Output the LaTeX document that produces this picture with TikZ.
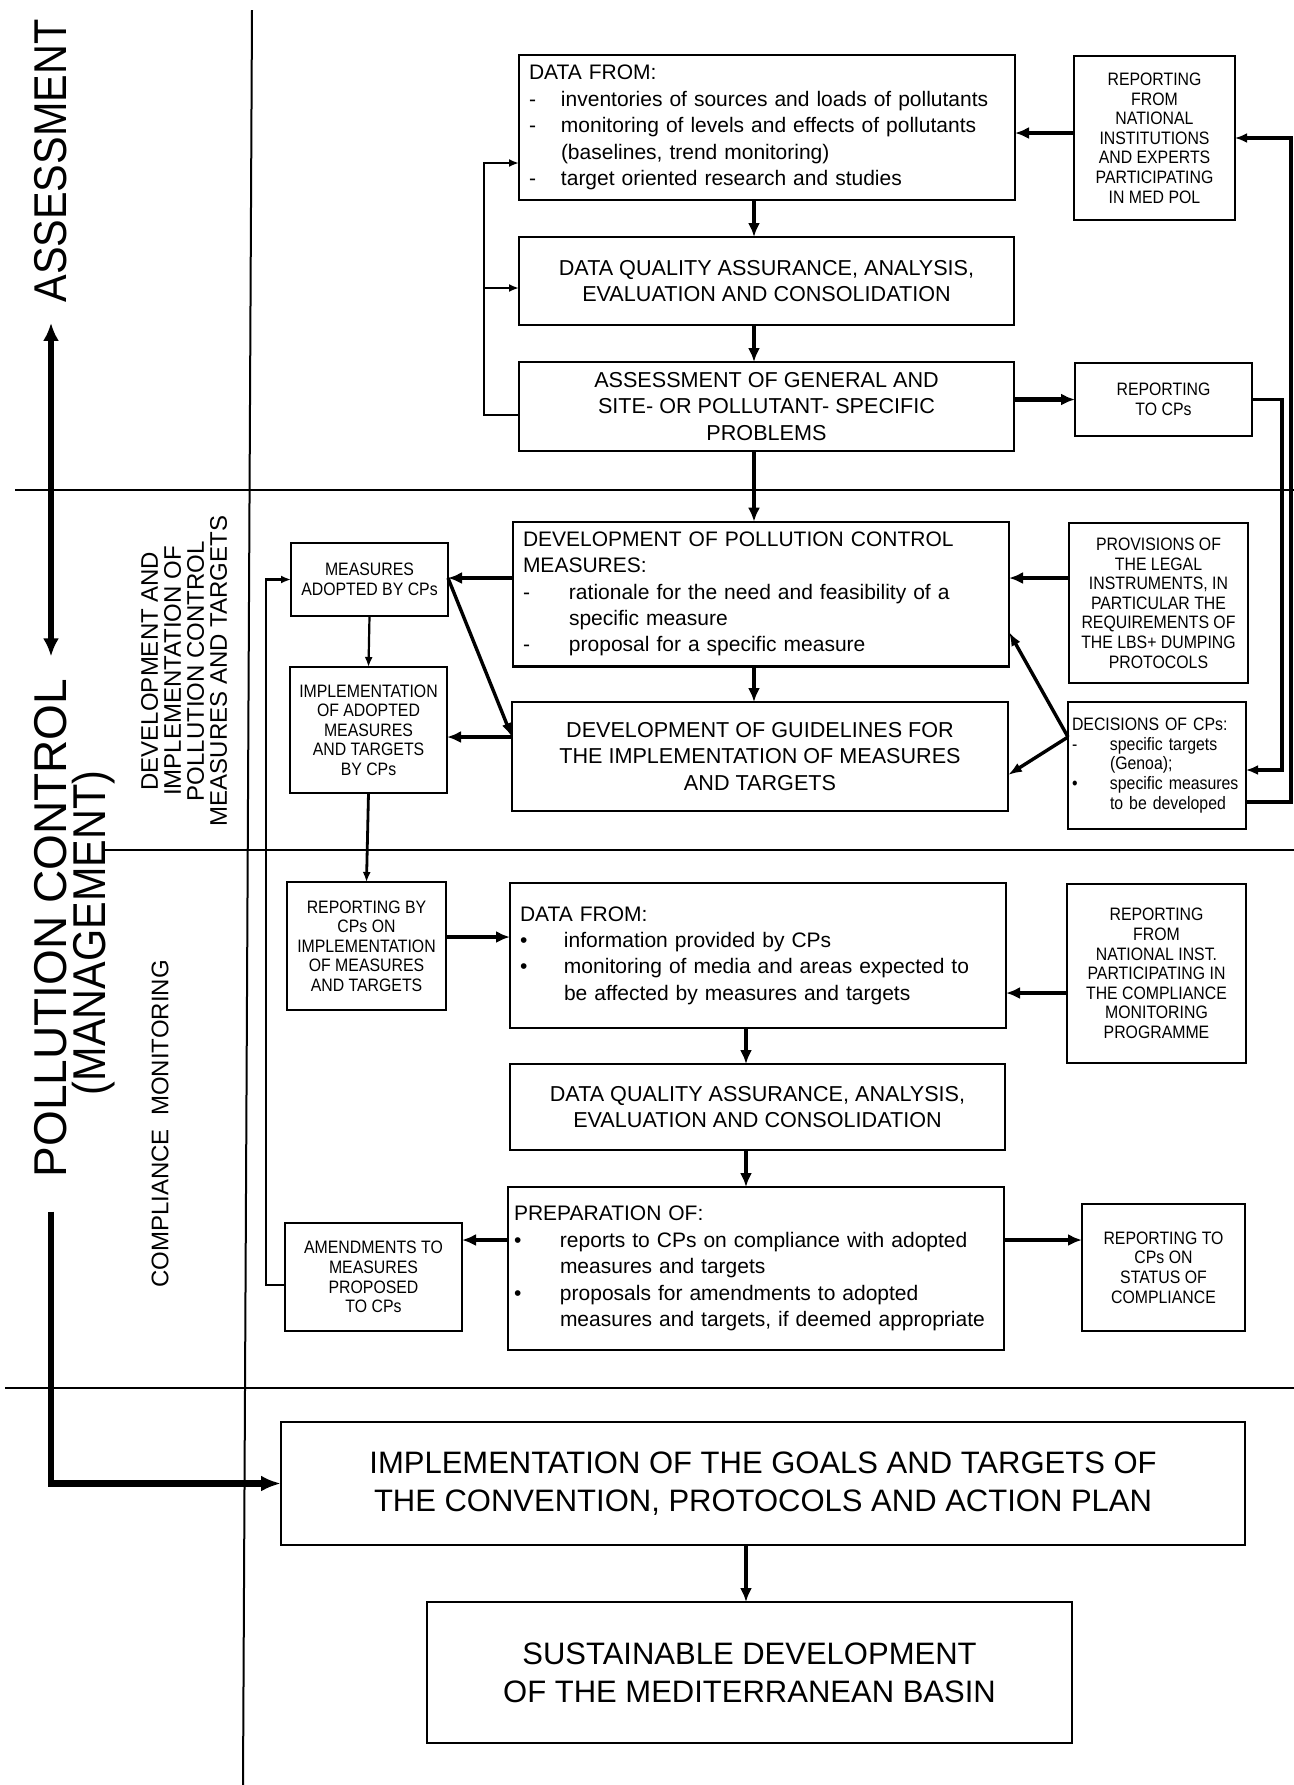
\documentclass[tikz,border=0pt]{standalone}
\usepackage{fontspec}
\setmainfont{Liberation Sans}
\newfontfamily\narrowfont{Liberation Sans}[FakeStretch=0.88]
\newfontfamily\sidefont{Liberation Sans}[FakeStretch=0.9]
\usepackage{tikz}
\usetikzlibrary{positioning,arrows.meta,calc}

% one bullet line: indent, mark, text
\newcommand{\ditem}[3]{\par\noindent\hangindent=#1\hangafter=1\makebox[#1][l]{#2}#3\par}

\tikzset{
  box/.style={draw, line width=1.2pt, inner sep=5pt, outer sep=0pt, font=\fontsize{10.8}{13.2}\selectfont},
  listbox/.style={box, align=left, text width=238pt, font=\fontsize{10.5}{13.2}\selectfont},
  midbox/.style={box, align=center},
  goalbox/.style={box, align=center, font=\fontsize{15.5}{19}\selectfont},
  smallbox/.style={draw, line width=1.2pt, inner sep=3pt, outer sep=0pt, align=center, font=\narrowfont\fontsize{9}{9.8}\selectfont},
  flow/.style={line width=2.4pt, -{Latex[length=7pt,width=6pt]}},
  link/.style={line width=1.1pt, -{Latex[length=5pt,width=4pt]}},
  slant/.style={line width=1.7pt, -{Latex[length=7pt,width=5pt]}},
  bus/.style={line width=1.7pt, -{Latex[length=6pt,width=5pt]}},
  sepline/.style={line width=1pt},
  sidelabel/.style={rotate=90, inner sep=0pt, font=\sidefont\fontsize{23}{26}\selectfont},
  seclabel/.style={rotate=90, align=center, inner sep=0pt, font=\fontsize{12}{11.5}\selectfont}
}

\begin{document}
\begin{tikzpicture}[x=0.5pt, y=-0.5pt]
\useasboundingbox (0,0) rectangle (1294,1785);

% frame of the columns and bands
\draw[sepline] (252,10) -- (243,1785);
\foreach \y/\x in {490/15, 850/105, 1388/5} {
  \draw[sepline] (\x,\y) -- (1294,\y);
}

% left hand labels
\node[sidelabel] (assessLbl) at (51,161) {ASSESSMENT};
\node[sidelabel, font=\fontsize{23}{26}\selectfont] (pollLbl) at (51,928) {POLLUTION CONTROL};
\node[sidelabel] (mgmtLbl) at (94,933) {(MANAGEMENT)};
\node[seclabel] (devLbl) at (184,671) {DEVELOPMENT AND\\IMPLEMENTATION OF\\POLLUTION CONTROL\\MEASURES AND TARGETS};
\node[seclabel] (compLbl) at (160,1124) {COMPLIANCE\ \ MONITORING};

% assessment band
\node[listbox, minimum height=72.5pt] (data1) at (767,127.5) {DATA FROM:
  \ditem{16pt}{-}{inventories of sources and loads of pollutants}
  \ditem{16pt}{-}{monitoring of levels and effects of pollutants\newline (baselines, trend monitoring)}
  \ditem{16pt}{-}{target oriented research and studies}};
\node[smallbox, minimum width=80.5pt, minimum height=82pt] (medpol) at (1154.5,138) {REPORTING\\FROM\\NATIONAL\\INSTITUTIONS\\AND EXPERTS\\PARTICIPATING\\IN MED POL};
\node[midbox, minimum width=247.5pt, minimum height=44pt] (quality1) at (766.5,281) {DATA QUALITY ASSURANCE, ANALYSIS,\\EVALUATION AND CONSOLIDATION};
\node[midbox, minimum width=247.5pt, minimum height=44.5pt] (assess) at (766.5,406.5) {ASSESSMENT OF GENERAL AND\\SITE- OR POLLUTANT- SPECIFIC\\PROBLEMS};
\node[smallbox, minimum width=88.5pt, minimum height=36.5pt] (repcps) at (1163.5,399.5) {REPORTING\\TO CPs};

% development and implementation band
\node[smallbox, minimum width=78.5pt, minimum height=36.5pt] (adopted) at (369.5,579.5) {MEASURES\\ADOPTED BY CPs};
\node[smallbox, minimum width=78.5pt, minimum height=63pt] (implem) at (368.5,730) {IMPLEMENTATION\\OF ADOPTED\\MEASURES\\AND TARGETS\\BY CPs};
\node[listbox, minimum height=71pt] (devpcm) at (761,594) {DEVELOPMENT OF POLLUTION CONTROL\newline MEASURES:
  \ditem{23pt}{-}{rationale for the need and feasibility of a\newline specific measure}
  \ditem{23pt}{-}{proposal for a specific measure}};
\node[midbox, minimum width=248pt, minimum height=54.5pt] (guide) at (760,756.5) {DEVELOPMENT OF GUIDELINES FOR\\THE IMPLEMENTATION OF MEASURES\\AND TARGETS};
\node[smallbox, minimum width=89.5pt, minimum height=80pt] (legal) at (1158.5,603) {PROVISIONS OF\\THE LEGAL\\INSTRUMENTS, IN\\PARTICULAR THE\\REQUIREMENTS OF\\THE LBS+ DUMPING\\PROTOCOLS};
\node[smallbox, align=left, inner xsep=2pt, text width=85pt, minimum height=63.5pt] (decis) at (1157,765.5) {DECISIONS OF CPs:
  \ditem{19pt}{-}{specific targets\newline (Genoa);}
  \ditem{19pt}{•}{specific measures\newline to be developed}};

% compliance monitoring band
\node[smallbox, minimum width=79.5pt, minimum height=64pt] (repby) at (366.5,946) {REPORTING BY\\CPs ON\\IMPLEMENTATION\\OF MEASURES\\AND TARGETS};
\node[listbox, minimum height=72.5pt] (data2) at (758,955.5) {DATA FROM:
  \ditem{22pt}{•}{information provided by CPs}
  \ditem{22pt}{•}{monitoring of media and areas expected to\newline be affected by measures and targets}};
\node[smallbox, minimum width=89.5pt, minimum height=89.5pt] (natinst) at (1156.5,973.5) {REPORTING\\FROM\\NATIONAL INST.\\PARTICIPATING IN\\THE COMPLIANCE\\MONITORING\\PROGRAMME};
\node[midbox, minimum width=247.5pt, minimum height=43pt] (quality2) at (757.5,1107) {DATA QUALITY ASSURANCE, ANALYSIS,\\EVALUATION AND CONSOLIDATION};
\node[listbox, inner xsep=3pt, text width=242pt, minimum height=81.5pt] (prep) at (756,1268.5) {PREPARATION OF:
  \ditem{23pt}{•}{\mbox{reports to CPs on compliance with adopted}\newline measures and targets}
  \ditem{23pt}{•}{\mbox{proposals for amendments to adopted}\newline \mbox{measures and targets, if deemed appropriate}}};
\node[smallbox, minimum width=88.5pt, minimum height=54pt] (amend) at (373.5,1277) {AMENDMENTS TO\\MEASURES\\PROPOSED\\TO CPs};
\node[smallbox, minimum width=81.5pt, minimum height=63.5pt] (status) at (1163.5,1267.5) {REPORTING TO\\CPs ON\\STATUS OF\\COMPLIANCE};

% goals
\node[goalbox, minimum width=482pt, minimum height=61.5pt] (goals) at (763,1483.5) {IMPLEMENTATION OF THE GOALS AND TARGETS OF\\THE CONVENTION, PROTOCOLS AND ACTION PLAN};
\node[goalbox, minimum width=322.5pt, minimum height=70.5pt] (sust) at (749.5,1672.5) {SUSTAINABLE DEVELOPMENT\\OF THE MEDITERRANEAN BASIN};

% helper rows and columns for the connectors
\foreach \n/\y in {rowMp/133, rowD1/163, rowQ1/288, rowAs/415, rowB/578, rowF/632, rowC/737, rowIn/770, rowE/775, rowOut/802, rowG/937, rowH/993, rowI/1240, rowJ/1285} {
  \coordinate (\n) at (0,\y);
}
\coordinate (spineA) at (754,0);
\coordinate (spineB) at (746,0);
\coordinate (brk) at (484,0);
\coordinate (busIn) at (1282,0);
\coordinate (busOut) at (1291,0);
\coordinate (fbx) at (266,0);

% main spine
\draw[flow] (data1.south -| spineA) -- (quality1.north -| spineA);
\draw[flow] (quality1.south -| spineA) -- (assess.north -| spineA);
\draw[flow] (assess.south -| spineA) -- (devpcm.north -| spineA);
\draw[flow] (devpcm.south -| spineA) -- (guide.north -| spineA);
\draw[flow] (data2.south -| spineB) -- (quality2.north -| spineB);
\draw[flow] (quality2.south -| spineB) -- (prep.north -| spineB);
\draw[flow] (goals.south -| spineB) -- (sust.north -| spineB);

% side inputs and outputs
\draw[flow] (medpol.west |- rowMp) -- (data1.east |- rowMp);
\draw[flow] (assess.east |- repcps.west) -- (repcps.west);
\draw[flow] (legal.west |- rowB) -- (devpcm.east |- rowB);
\draw[flow] (devpcm.west |- rowB) -- (adopted.east |- rowB);
\draw[flow] (guide.west |- rowC) -- (implem.east |- rowC);
\draw[flow] (repby.east |- rowG) -- (data2.west |- rowG);
\draw[flow] (natinst.west |- rowH) -- (data2.east |- rowH);
\draw[flow] (prep.west |- rowI) -- (amend.east |- rowI);
\draw[flow] (prep.east |- rowI) -- (status.west |- rowI);

% left feedback bracket
\draw[link] (assess.west |- rowAs) -- (brk |- rowAs) -- (brk |- rowD1) -- (data1.west |- rowD1);
\draw[link] (brk |- rowQ1) -- (quality1.west |- rowQ1);

% measures column
\draw[link] (adopted.south) -- (implem.north);
\draw[link, line width=1.4pt] (implem.south) -- (repby.north);
\draw[slant] (adopted.east |- rowB) -- (guide.west |- rowC);
\draw[slant] (decis.west |- rowC) -- (devpcm.east |- rowF);
\draw[slant] (decis.west |- rowC) -- (guide.east |- rowE);
\draw[link] (amend.west |- rowJ) -- (fbx |- rowJ) -- (fbx |- adopted.west) -- (adopted.west);

% right hand bus
\draw[bus] (repcps.east) -- (busIn |- repcps.east) -- (busIn |- rowIn) -- (decis.east |- rowIn);
\draw[bus] (decis.east |- rowOut) -- (busOut |- rowOut) -- (busOut |- medpol.east) -- (medpol.east);

% big arrows on the left
\draw[line width=3pt, {Latex[length=9pt,width=8pt]}-{Latex[length=9pt,width=8pt]}, shorten <=10pt, shorten >=11pt] (assessLbl.west) -- (assessLbl.west |- pollLbl.east);
\draw[line width=3.4pt, -{Latex[length=10pt,width=8pt]}, shorten <=17pt] (pollLbl.west) |- (goals.west);
\end{tikzpicture}
\end{document}
